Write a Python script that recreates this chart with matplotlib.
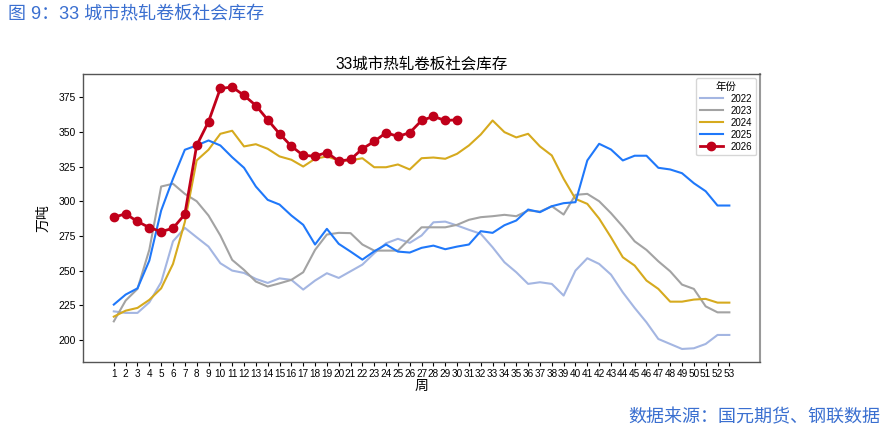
import matplotlib
matplotlib.use("Agg")
import matplotlib.pyplot as plt

plt.rcParams['font.family'] = ['Liberation Sans', 'Noto Sans CJK SC', 'DejaVu Sans']
plt.rcParams['axes.unicode_minus'] = False

weeks = list(range(1, 54))

y2022 = [220.6, 219.5, 219.5, 227.1, 241.6, 271.1, 280.8, 274.0, 267.3, 255.3,
         250.0, 248.3, 244.0, 241.1, 244.4, 243.3, 236.3, 242.8, 248.1, 244.7,
         249.5, 254.3, 262.5, 269.7, 272.9, 270.0, 275.3, 284.8, 285.3, 282.5,
         279.4, 276.5, 266.8, 256.0, 248.8, 240.4, 241.6, 240.4, 232.0, 250.0,
         258.9, 254.8, 247.1, 234.3, 223.1, 212.7, 200.7, 197.1, 193.5, 194.0,
         197.1, 203.6, 203.6]
y2023 = [213.4, 228.4, 236.8, 265.0, 310.6, 312.6, 305.3, 300.0, 289.7, 275.3,
         257.7, 250.5, 242.1, 238.5, 240.8, 243.3, 248.8, 264.9, 276.0, 277.2,
         277.0, 268.8, 264.4, 264.4, 264.4, 272.9, 281.2, 281.2, 281.2, 283.0,
         286.6, 288.5, 289.2, 290.2, 289.2, 293.3, 292.5, 296.4, 290.4, 304.6,
         305.3, 300.0, 291.4, 281.7, 271.1, 264.9, 256.7, 249.5, 239.9, 236.8,
         224.2, 219.9, 219.9]
y2024 = [216.8, 221.1, 223.1, 228.9, 237.2, 254.8, 285.0, 329.4, 337.1, 348.6,
         350.8, 339.5, 341.1, 337.8, 332.3, 329.9, 325.0, 330.6, 332.3, 329.4,
         329.4, 331.0, 324.5, 324.5, 326.5, 322.9, 331.0, 331.5, 330.6, 334.2,
         340.2, 348.1, 358.2, 349.8, 346.0, 348.6, 339.5, 333.0, 316.2, 301.7,
         298.1, 287.5, 274.0, 259.6, 253.6, 242.8, 236.8, 227.6, 227.6, 229.1,
         229.6, 226.9, 226.9]
y2025 = [225.5, 232.7, 237.2, 257.2, 293.3, 316.2, 337.1, 340.2, 343.8, 340.2,
         331.7, 324.1, 310.6, 301.0, 297.6, 289.7, 283.0, 268.8, 280.1, 269.3,
         263.7, 257.9, 263.9, 268.8, 263.7, 263.0, 266.4, 268.0, 265.4, 267.3,
         268.8, 278.4, 277.2, 282.7, 286.1, 294.0, 292.1, 296.4, 298.6, 299.3,
         329.4, 341.4, 337.3, 329.4, 332.8, 332.8, 324.1, 322.9, 320.2, 313.0,
         307.2, 296.9, 296.9]
weeks2026 = list(range(1, 31))
y2026 = [288.5, 290.9, 285.4, 281.0, 278.1, 280.5, 290.6, 340.2, 357.3, 381.3,
         382.3, 376.3, 369.0, 358.7, 348.6, 339.7, 333.0, 332.5, 335.1, 328.9,
         330.1, 337.8, 343.1, 349.4, 346.7, 349.4, 358.2, 361.1, 358.2, 358.7]

series = [("2022", y2022, "#a4b6e2"), ("2023", y2023, "#a3a3a3"),
          ("2024", y2024, "#d6aa1e"), ("2025", y2025, "#1f78fa")]

yticks = [200, 225, 250, 275, 300, 325, 350, 375]

fig = plt.figure(figsize=(8.88, 4.30), dpi=100)
ax = fig.add_axes([0.0935, 0.158, 0.7625, 0.670])

for name, vals, col in series:
    ax.plot(weeks, vals, color=col, lw=1.5, label=name)
ax.plot(weeks2026, y2026, color="#c0001a", lw=2.0, marker="o", ms=6, label="2026")

ax.set_xticks(weeks)
ax.set_xticklabels([str(w) for w in weeks], fontsize=7.2)
ax.set_yticks(yticks)
ax.set_yticklabels([str(v) for v in yticks], fontsize=7.5)
ax.tick_params(length=3, width=0.8, pad=2)
ax.set_xlabel("周", fontsize=10, labelpad=0)
ax.set_ylabel("万吨", fontsize=10, labelpad=6)
ax.set_title("33城市热轧卷板社会库存", fontsize=11.2, pad=4)
for s in ax.spines.values():
    s.set_color("#555555")
    s.set_linewidth(1.0)
ax.spines["right"].set_color("#999999")
ax.spines["right"].set_linewidth(1.5)

leg = ax.legend(title="年份", loc="upper right", fontsize=7, title_fontsize=7.5,
                frameon=True, borderpad=0.4, labelspacing=0.2, handlelength=2.4,
                borderaxespad=0.4)
leg.get_frame().set_edgecolor("#cccccc")

fig.text(0.009, 0.965, "图 9：33 城市热轧卷板社会库存", fontsize=13, color="#3a6fd0",
         ha="left", va="center")
fig.text(0.991, 0.028, "数据来源：国元期货、钢联数据", fontsize=13, color="#3a6fd0",
         ha="right", va="center")

fig.savefig("out.png", dpi=100)
